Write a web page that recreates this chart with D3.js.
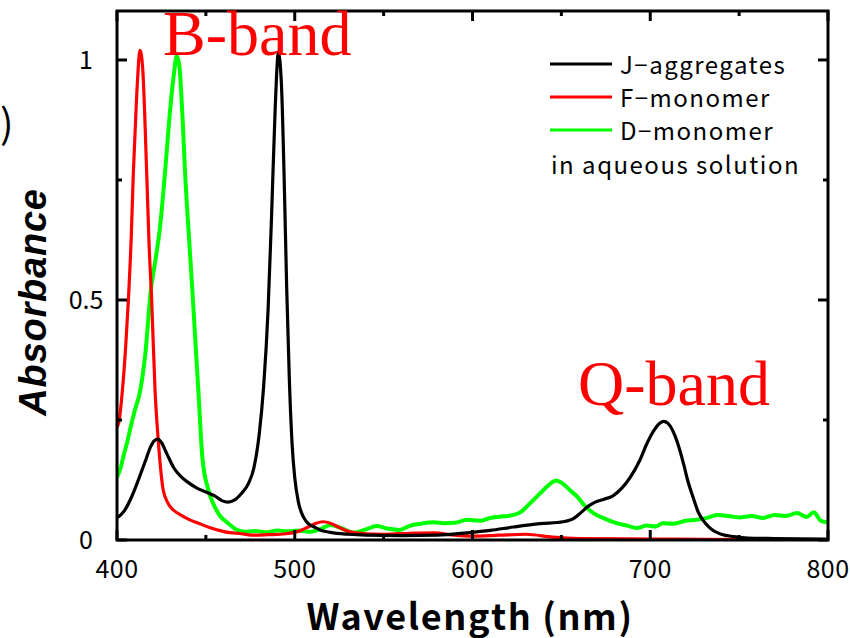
<!DOCTYPE html>
<html>
<head>
<meta charset="utf-8">
<script src="https://cdn.jsdelivr.net/npm/d3@7"></script>
<style>
    body { margin: 0; background: #fff; }
    svg { display: block; }
</style>
</head>
<body>
<div id="chart"></div>
<script>
"use strict"

// wavelength (nm) / absorbance pairs
const jWave = [400, 404, 408, 412, 416, 419, 421, 423, 425, 428, 432, 436, 440, 445, 450, 455, 459, 462.5, 466, 470, 474, 477, 480, 482.5, 485, 487, 489, 490.8, 492.5, 494, 495.5, 497, 498.5, 500, 502, 505, 508, 511, 515, 520, 530, 540, 560, 580, 597, 610, 623, 638, 651, 657, 661, 665, 669, 674, 679, 684, 689, 694, 698, 702, 705, 707.5, 710, 713, 716, 719, 721, 724, 727, 731, 735, 740, 747, 755, 770, 800];
const jAbs = [0.046, 0.06, 0.088, 0.125, 0.165, 0.195, 0.207, 0.21, 0.203, 0.18, 0.15, 0.132, 0.12, 0.108, 0.1, 0.092, 0.082, 0.079, 0.083, 0.097, 0.118, 0.15, 0.22, 0.32, 0.48, 0.68, 0.9, 1.015, 0.95, 0.76, 0.52, 0.33, 0.2, 0.13, 0.08, 0.047, 0.033, 0.027, 0.02, 0.016, 0.012, 0.01, 0.009, 0.01, 0.015, 0.02, 0.027, 0.034, 0.038, 0.045, 0.057, 0.07, 0.079, 0.085, 0.092, 0.108, 0.132, 0.165, 0.2, 0.228, 0.242, 0.247, 0.243, 0.225, 0.195, 0.155, 0.125, 0.09, 0.058, 0.035, 0.021, 0.012, 0.007, 0.004, 0.003, 0.002];

const fWave = [400, 401, 403, 405, 406.4, 408, 409.2, 411, 413, 414.5, 416.7, 418, 419.5, 421.4, 423.2, 426, 428.5, 431.7, 436, 441, 445.8, 452, 460.8, 470, 477.6, 485, 495, 502, 507, 512, 516, 520, 525, 531, 540, 550, 565, 578, 590, 600, 615, 630, 645, 660, 700, 750, 800];
const fAbs = [0.235, 0.245, 0.31, 0.41, 0.5, 0.63, 0.765, 0.92, 1.02, 0.98, 0.765, 0.62, 0.5, 0.312, 0.208, 0.104, 0.078, 0.0625, 0.052, 0.042, 0.035, 0.026, 0.017, 0.013, 0.01, 0.011, 0.013, 0.018, 0.026, 0.035, 0.038, 0.035, 0.026, 0.017, 0.013, 0.012, 0.014, 0.015, 0.01, 0.008, 0.01, 0.012, 0.006, 0.003, 0.002, 0.001, 0.001];

const dWave = [400, 402, 404, 406, 408, 410, 413, 416, 419, 421.5, 424.2, 427, 430, 432, 433.6, 435, 437, 438.3, 440.5, 442.4, 444, 445.8, 448, 451.4, 455, 458, 462.5, 467, 472, 478, 484, 490, 496, 502, 508, 514, 520, 526, 533, 540, 546, 552, 559, 565, 571, 578, 584, 590, 597, 604, 610, 614, 620, 627, 632, 638, 643, 647, 651, 655, 659, 663, 668, 674, 681, 687, 692.5, 698, 703, 707, 713, 720, 726, 732, 737.6, 744, 750, 757, 763.5, 770, 776, 782.6, 788, 792, 796, 800];
const dAbs = [0.13, 0.15, 0.18, 0.208, 0.24, 0.27, 0.31, 0.39, 0.52, 0.58, 0.652, 0.765, 0.9, 0.97, 1.008, 0.99, 0.87, 0.765, 0.63, 0.52, 0.42, 0.31, 0.173, 0.104, 0.069, 0.05, 0.035, 0.022, 0.017, 0.019, 0.016, 0.02, 0.018, 0.02, 0.017, 0.022, 0.031, 0.025, 0.015, 0.022, 0.029, 0.024, 0.021, 0.03, 0.034, 0.037, 0.035, 0.036, 0.042, 0.04, 0.046, 0.048, 0.05, 0.058, 0.075, 0.097, 0.115, 0.124, 0.117, 0.103, 0.09, 0.072, 0.056, 0.045, 0.035, 0.03, 0.025, 0.03, 0.028, 0.035, 0.034, 0.04, 0.042, 0.046, 0.052, 0.05, 0.047, 0.05, 0.046, 0.052, 0.05, 0.056, 0.048, 0.058, 0.04, 0.037];

const seriesNames = ["J\u2212aggregates", "F\u2212monomer", "D\u2212monomer"];
const seriesColors = ["#000000", "#ff0000", "#00ff00"];

const xMajorTicks = [400, 500, 600, 700, 800];
const xMinorTicks = [450, 550, 650, 750];
const yMajorTicks = [0, 0.5, 1];
const yMinorTicks = [0.25, 0.75];

const width = 850;
const height = 638;
const plotLeft = 117;
const plotRight = 828;
const plotTop = 11;
const plotBottom = 540;
const majorTick = 10;
const minorTick = 5;
const gothic = "'Noto Sans CJK JP', 'Noto Sans', sans-serif";
const serif = "'Liberation Serif', 'DejaVu Serif', serif";

const svg = d3.select("#chart")
    .append("svg")
    .attr("width", width)
    .attr("height", height);

const x = d3.scaleLinear().domain([400, 800]).range([plotLeft, plotRight]);
const y = d3.scaleLinear().domain([0, 1.102]).range([plotBottom, plotTop]);


function DrawCurves()
{
    svg.append("clipPath")
        .attr("id", "plot-clip")
        .append("rect")
            .attr("x", plotLeft)
            .attr("y", plotTop)
            .attr("width", plotRight - plotLeft)
            .attr("height", plotBottom - plotTop);

    const line = d3.line()
        .x(d => x(d[0]))
        .y(d => y(d[1]))
        .curve(d3.curveMonotoneX);

    const curves = [
        [dWave, dAbs, 2],
        [fWave, fAbs, 1],
        [jWave, jAbs, 0]
    ];

    curves.forEach(([waves, values, i]) => {
        svg.append("path")
            .attr("clip-path", "url(#plot-clip)")
            .attr("d", line(d3.zip(waves, values)))
            .attr("fill", "none")
            .attr("stroke", seriesColors[i])
            .attr("stroke-width", i == 2 ? 4 : 3.2)
            .attr("stroke-linejoin", "round");
    });
}


function DrawFrame()
{
    const frame = svg.append("g")
        .attr("stroke", "black")
        .attr("stroke-width", 3);

    const addTicks = (values, len, isX) => {
        values.forEach(v => {
            if(isX)
            {
                frame.append("line").attr("x1", x(v)).attr("x2", x(v)).attr("y1", plotBottom).attr("y2", plotBottom - len);
                frame.append("line").attr("x1", x(v)).attr("x2", x(v)).attr("y1", plotTop).attr("y2", plotTop + len);
            }
            else
            {
                frame.append("line").attr("y1", y(v)).attr("y2", y(v)).attr("x1", plotLeft).attr("x2", plotLeft + len);
                frame.append("line").attr("y1", y(v)).attr("y2", y(v)).attr("x1", plotRight).attr("x2", plotRight - len);
            }
        });
    };

    addTicks(xMajorTicks, majorTick, true);
    addTicks(xMinorTicks, minorTick, true);
    addTicks(yMajorTicks, majorTick, false);
    addTicks(yMinorTicks, minorTick, false);

    frame.append("rect")
        .attr("x", plotLeft)
        .attr("y", plotTop)
        .attr("width", plotRight - plotLeft)
        .attr("height", plotBottom - plotTop)
        .attr("fill", "none");

    svg.selectAll(".x-label")
        .data(xMajorTicks)
        .enter()
        .append("text")
            .attr("class", "x-label")
            .attr("x", d => x(d))
            .attr("y", 578)
            .attr("text-anchor", "middle")
            .attr("font-family", gothic)
            .attr("font-size", 25)
            .attr("letter-spacing", 0.5)
            .text(d => d);

    svg.selectAll(".y-label")
        .data(yMajorTicks)
        .enter()
        .append("text")
            .attr("class", "y-label")
            .attr("x", 86)
            .attr("y", d => y(d) + 9)
            .attr("text-anchor", "middle")
            .attr("font-family", gothic)
            .attr("font-size", 25)
            .text(d => d);
}


function DrawTitles()
{
    svg.append("text")
        .attr("x", 470)
        .attr("y", 630)
        .attr("text-anchor", "middle")
        .attr("font-family", gothic)
        .attr("font-weight", "bold")
        .attr("font-size", 36)
        .attr("letter-spacing", 1.6)
        .text("Wavelength (nm)");

    svg.append("text")
        .attr("transform", "translate(46, 302) rotate(-90)")
        .attr("text-anchor", "middle")
        .attr("font-family", "'Liberation Sans', Arial, sans-serif")
        .attr("font-weight", "bold")
        .attr("font-style", "italic")
        .attr("font-size", 38)
        .attr("letter-spacing", 0.8)
        .text("Absorbance");

    // remnant of a neighbouring label, cut by the left edge
    svg.append("text")
        .attr("x", 0)
        .attr("y", 138)
        .attr("font-family", gothic)
        .attr("font-size", 40)
        .text(")");

    svg.append("text")
        .attr("x", 163)
        .attr("y", 55)
        .attr("font-family", serif)
        .attr("font-size", 64)
        .attr("fill", "#ff0000")
        .text("B-band");

    svg.append("text")
        .attr("x", 578)
        .attr("y", 405)
        .attr("font-family", serif)
        .attr("font-size", 64)
        .attr("fill", "#ff0000")
        .text("Q-band");
}


function DrawLegend()
{
    const rowY = d3.scaleLinear().domain([0, 1]).range([64, 97]);

    const rows = svg.selectAll(".legend-row")
        .data(seriesNames)
        .enter()
        .append("g")
            .attr("class", "legend-row")
            .attr("transform", (_, i) => `translate(0, ${rowY(i)})`);

    rows.append("line")
        .attr("x1", 550)
        .attr("x2", 612)
        .attr("stroke", (_, i) => seriesColors[i])
        .attr("stroke-width", 3.2);

    rows.append("text")
        .attr("x", 620)
        .attr("y", 10)
        .attr("font-family", gothic)
        .attr("font-size", 24)
        .attr("letter-spacing", 1.5)
        .text(d => d);

    svg.append("text")
        .attr("x", 551)
        .attr("y", 174)
        .attr("font-family", gothic)
        .attr("font-size", 24)
        .attr("letter-spacing", 1.5)
        .text("in aqueous solution");
}


DrawCurves();
DrawFrame();
DrawTitles();
DrawLegend();
</script>
</body>
</html>
